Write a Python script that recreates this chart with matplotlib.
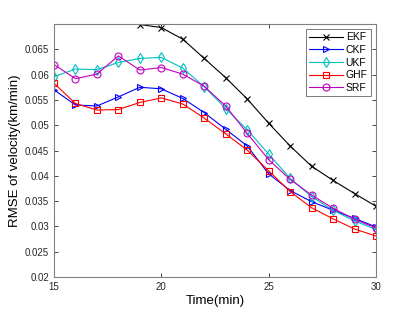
import numpy as np
import matplotlib
matplotlib.use('Agg')
from matplotlib import pyplot as plt

plt.rcParams['font.family'] = ['Liberation Sans', 'DejaVu Sans']

time = np.arange(15, 31)

# RMSE of velocity per filter (km/min)
ekf = [0.0720, 0.0715, 0.0710, 0.0705, 0.0699, 0.0693, 0.0670, 0.0632,
       0.0594, 0.0552, 0.0504, 0.0459, 0.0419, 0.0391, 0.0365, 0.0340]
ckf = [0.0570, 0.0540, 0.0538, 0.0556, 0.0575, 0.0572, 0.0553, 0.0525,
       0.0492, 0.0459, 0.0404, 0.0371, 0.0349, 0.0332, 0.0316, 0.0299]
ukf = [0.0596, 0.0611, 0.0610, 0.0624, 0.0632, 0.0634, 0.0613, 0.0576,
       0.0533, 0.0491, 0.0443, 0.0395, 0.0359, 0.0332, 0.0311, 0.0294]
ghf = [0.0583, 0.0543, 0.0530, 0.0531, 0.0545, 0.0554, 0.0542, 0.0514,
       0.0483, 0.0451, 0.0410, 0.0369, 0.0337, 0.0315, 0.0295, 0.0281]
srf = [0.0620, 0.0592, 0.0601, 0.0637, 0.0609, 0.0614, 0.0601, 0.0577,
       0.0538, 0.0484, 0.0432, 0.0393, 0.0362, 0.0336, 0.0314, 0.0297]

series = [('EKF', ekf, 'k', 'x', 4),
          ('CKF', ckf, 'b', '>', 5),
          ('UKF', ukf, 'c', 'd', 5),
          ('GHF', ghf, 'r', 's', 4.5),
          ('SRF', srf, 'm', 'o', 5)]

fig = plt.figure(figsize=(4.15, 3.12), dpi=100)
ax = fig.add_axes([0.130, 0.112, 0.776, 0.811])

for name, vals, c, m, ms in series:
    ax.plot(time, vals, '-', color=c, marker=m, lw=0.8, ms=ms,
            mfc='none', mew=0.8, label=name)

ax.set_xlim(15, 30)
ax.set_ylim(0.02, 0.07)
ax.set_xticks([15, 20, 25, 30])
ax.set_yticks(np.arange(0.02, 0.0651, 0.005))
ax.set_yticklabels(['0.02', '0.025', '0.03', '0.035', '0.04', '0.045',
                    '0.05', '0.055', '0.06', '0.065'])
ax.tick_params(direction='in', top=True, right=True, labelsize=7,
               length=3, width=0.6, colors='#262626')
for sp in ax.spines.values():
    sp.set_color('#808080')
    sp.set_linewidth(0.8)

ax.set_xlabel('Time(min)', fontsize=9.5, labelpad=2)
ax.set_ylabel('RMSE of velocity(km/min)', fontsize=9.5, labelpad=3)

leg = ax.legend(loc='upper right', fontsize=7.5, fancybox=False,
                borderaxespad=0.5, handlelength=3.2, labelspacing=0.25,
                borderpad=0.3, handletextpad=0.3)
leg.get_frame().set_edgecolor('#404040')
leg.get_frame().set_linewidth(0.6)

fig.savefig('out.png', dpi=100)
